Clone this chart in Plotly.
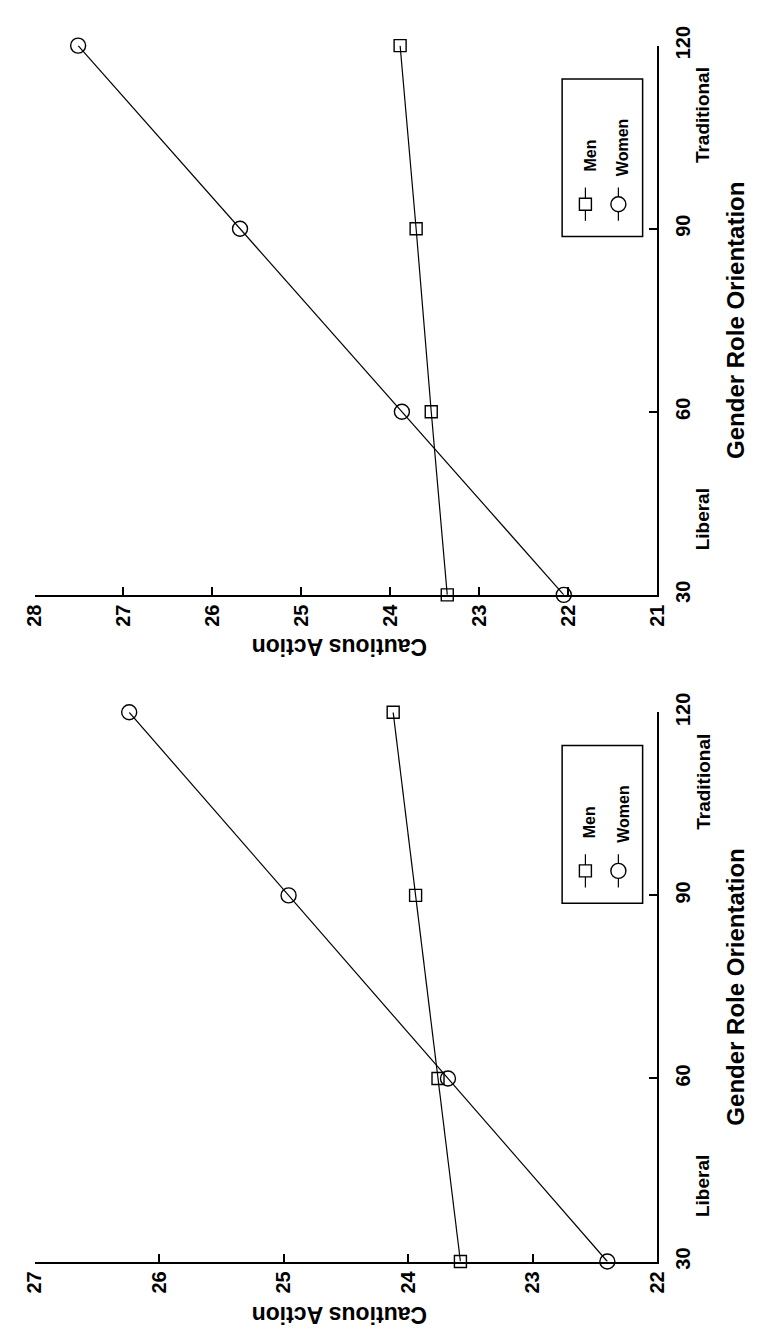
import plotly.graph_objects as go

# ---------------- data ----------------
gender = [30, 60, 90, 120]                      # Gender Role Orientation
men_top = [23.36, 23.54, 23.71, 23.89]          # upper panel
women_top = [22.05, 23.87, 25.69, 27.51]
men_bot = [23.58, 23.76, 23.94, 24.12]          # lower panel
women_bot = [22.40, 23.68, 24.96, 26.24]
ticks_top = [21, 22, 23, 24, 25, 26, 27, 28]
ticks_bot = [22, 23, 24, 25, 26, 27]
gender_ticks = [30, 60, 90, 120]

# ---------------- layout constants ----------------
W, H = 762, 1332
FONT = "Liberation Sans, Arial, Helvetica, sans-serif"
X0, X1 = 15, 657            # pixel extent of plot area (horizontal)
TOP_Y = (18, 579)           # pixel extent (top, bottom) of upper panel
BOT_Y = (699, 1260)         # pixel extent of lower panel


def px(x):
    return x / W


def py(y):
    return 1 - y / H


fig = go.Figure()

line_style = dict(color="black", width=1.2)
mk_sq = dict(symbol="square-open", size=12, color="black", line=dict(width=1.4, color="black"))
mk_ci = dict(symbol="circle-open", size=15, color="black", line=dict(width=1.4, color="black"))

for xa, ya, men, women in [("x", "y", men_top, women_top), ("x2", "y2", men_bot, women_bot)]:
    fig.add_trace(go.Scatter(x=men, y=gender, mode="lines+markers", line=line_style,
                             marker=mk_sq, xaxis=xa, yaxis=ya, cliponaxis=False,
                             showlegend=False, name="Men"))
    fig.add_trace(go.Scatter(x=women, y=gender, mode="lines+markers", line=line_style,
                             marker=mk_ci, xaxis=xa, yaxis=ya, cliponaxis=False,
                             showlegend=False, name="Women"))

tickfont = dict(family=FONT, size=20, color="black", weight="bold")

common_x = dict(showgrid=False, zeroline=False, showline=True, linecolor="black", linewidth=1.5,
                ticks="inside", ticklen=8, tickwidth=1.5, tickcolor="black", tickangle=-90,
                tickfont=tickfont, ticklabelstandoff=0, domain=[px(X0), px(X1)])
common_y = dict(showgrid=False, zeroline=False, showline=True, linecolor="black", linewidth=1.5,
                ticks="inside", ticklen=8, tickwidth=1.5, tickcolor="black", tickangle=-90,
                tickfont=tickfont, side="right", range=[30, 120], tickvals=gender_ticks,
                ticklabelstandoff=7)

fig.update_layout(
    width=W, height=H, margin=dict(l=0, r=0, t=0, b=0),
    paper_bgcolor="white", plot_bgcolor="white",
    xaxis=dict(common_x, range=[28, 21], tickvals=ticks_top, anchor="y"),
    yaxis=dict(common_y, domain=[py(TOP_Y[1]), py(TOP_Y[0])], anchor="x"),
    xaxis2=dict(common_x, range=[27, 22], tickvals=ticks_bot, anchor="y2"),
    yaxis2=dict(common_y, domain=[py(BOT_Y[1]), py(BOT_Y[0])], anchor="x2"),
)

annotations = []
shapes = []


def label(text, x, y, size, angle):
    return dict(text="<b>" + text + "</b>", x=px(x), y=py(y), xref="paper", yref="paper",
                showarrow=False, textangle=angle, xanchor="center", yanchor="middle",
                font=dict(family=FONT, size=size, color="black"))


for (ytop, ybot) in [TOP_Y, BOT_Y]:
    mid = (ytop + ybot) / 2
    hgt = ybot - ytop
    annotations.append(label("Cautious Action", 330, ybot + 54, 23, 180))
    annotations.append(label("Gender Role Orientation", 738, mid, 24, -90))
    annotations.append(label("Liberal", 704, ybot - 0.137 * hgt, 19, -90))
    annotations.append(label("Traditional", 704, ybot - 0.873 * hgt, 19, -90))
    # legend box
    bx0, bx1 = 559, 642
    by0, by1 = ytop + 34, ytop + 195
    shapes.append(dict(type="rect", xref="paper", yref="paper", x0=px(bx0), x1=px(bx1),
                       y0=py(by1), y1=py(by0), line=dict(color="black", width=1.5)))
    sym_y = ytop + 162
    for sx, kind, name, tcy in [(583, "rect", "Men", ytop + 112), (617, "circle", "Women", ytop + 104.5)]:
        shapes.append(dict(type="line", xref="paper", yref="paper", x0=px(sx), x1=px(sx),
                           y0=py(sym_y - 17), y1=py(sym_y + 17), line=dict(color="black", width=1.2)))
        r = 6 if kind == "rect" else 7.5
        shapes.append(dict(type=kind, xref="paper", yref="paper",
                           xsizemode="pixel", ysizemode="pixel",
                           xanchor=px(sx), yanchor=py(sym_y),
                           x0=-r, x1=r, y0=-r, y1=r,
                           fillcolor="white", line=dict(color="black", width=1.4)))
        annotations.append(label(name, sx + 5, tcy, 16, -90))

fig.update_layout(annotations=annotations, shapes=shapes)
fig.write_html("out.html")
